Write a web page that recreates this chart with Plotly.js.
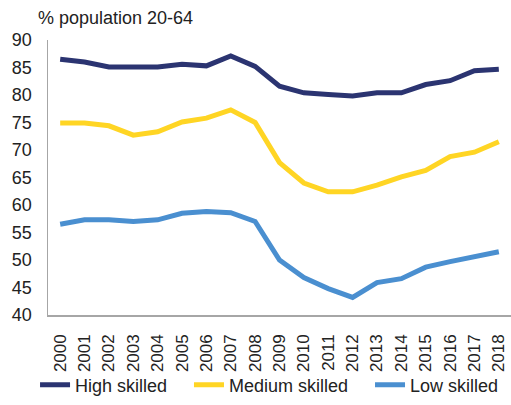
<!DOCTYPE html>
<html>
<head>
<meta charset="utf-8">
<script src="https://cdn.plot.ly/plotly-3.0.1.min.js"></script>
<style>html,body{margin:0;padding:0;background:#fff;}#chart{width:511px;height:405px;}</style>
</head>
<body>
<div id="chart"></div>
<script>
const years = ["2000","2001","2002","2003","2004","2005","2006","2007","2008","2009","2010","2011","2012","2013","2014","2015","2016","2017","2018"];
const highSkilled = [86.5, 86.0, 85.1, 85.1, 85.1, 85.6, 85.3, 87.1, 85.2, 81.6, 80.4, 80.1, 79.8, 80.4, 80.4, 81.9, 82.6, 84.4, 84.7];
const mediumSkilled = [74.9, 74.9, 74.4, 72.7, 73.3, 75.1, 75.8, 77.3, 75.0, 67.7, 64.0, 62.4, 62.4, 63.6, 65.1, 66.3, 68.8, 69.6, 71.5];
const lowSkilled = [56.5, 57.3, 57.3, 57.0, 57.3, 58.5, 58.8, 58.6, 57.0, 50.0, 46.8, 44.8, 43.2, 45.9, 46.6, 48.7, 49.7, 50.6, 51.5];
const seriesNames = ["High skilled", "Medium skilled", "Low skilled"];
const yTitle = "% population 20-64";

const colors = ["#2B3471", "#FFD524", "#4A8FD0"];
const font = {family: "'Liberation Sans', Arial, sans-serif", size: 18, color: "#222"};
const xFont = {family: "'Liberation Sans', Arial, sans-serif", size: 17, color: "#222"};
const legendIds = ["legend", "legend2", "legend3"];
const legendX = [-0.028, 0.3045, 0.6955];

const data = [highSkilled, mediumSkilled, lowSkilled].map((vals, i) => ({
  x: years, y: vals, name: seriesNames[i], type: "scatter", mode: "lines",
  line: {color: colors[i], width: 5}, legend: legendIds[i]
}));

const layout = {
  width: 511, height: 405,
  margin: {l: 48, r: 0, t: 40, b: 90},
  paper_bgcolor: "#fff", plot_bgcolor: "#fff",
  font: font,
  showlegend: true,
  xaxis: {type: "category", range: [-0.5, 18.5], showline: true, linecolor: "#A6A6A6", linewidth: 1.5,
          showgrid: false, zeroline: false, ticks: "", tickangle: -90, tickfont: xFont, ticklabelstandoff: 11},
  yaxis: {range: [40, 90], dtick: 5, showline: true, linecolor: "#A6A6A6", linewidth: 1.5,
          showgrid: false, zeroline: false, ticks: "", tickfont: font, ticklabelstandoff: 11},
  annotations: [{text: yTitle, xref: "paper", yref: "paper", x: -0.026, y: 1.08,
                 xanchor: "left", yanchor: "middle", showarrow: false, font: font}]
};
legendIds.forEach((id, i) => {
  layout[id] = {orientation: "h", x: legendX[i], xanchor: "left", y: -0.255, yanchor: "middle",
                font: font, bgcolor: "rgba(0,0,0,0)"};
});

Plotly.newPlot("chart", data, layout, {displayModeBar: false, staticPlot: true});
</script>
</body>
</html>
